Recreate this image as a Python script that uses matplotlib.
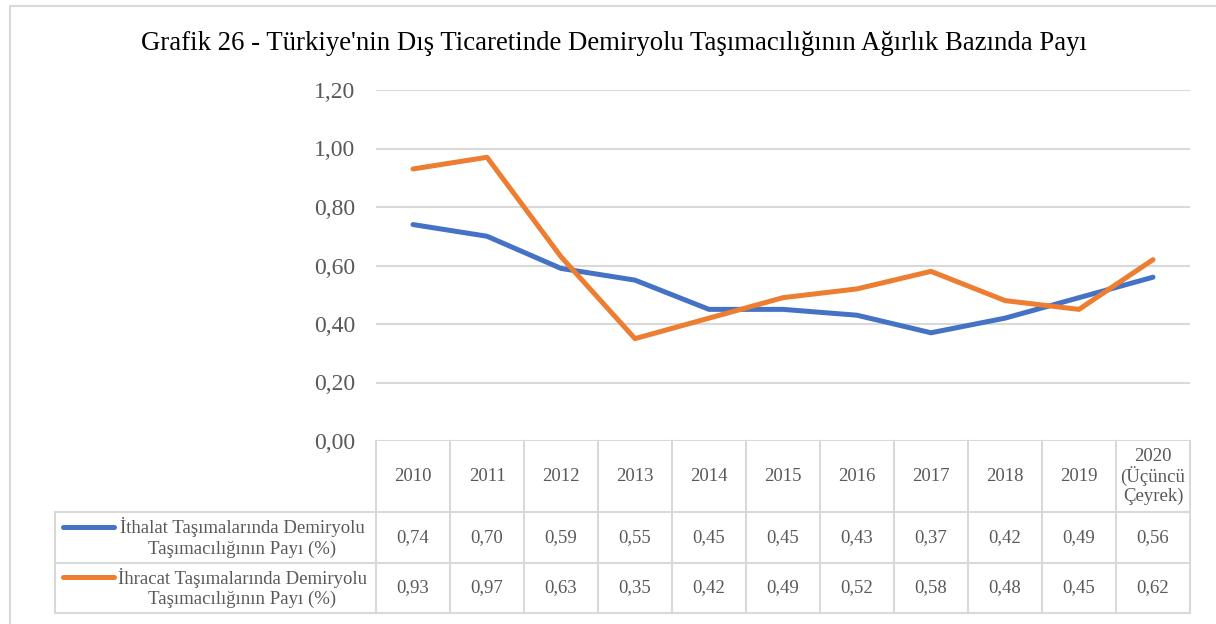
import matplotlib
matplotlib.use("Agg")
import matplotlib.pyplot as plt
from matplotlib.lines import Line2D
from matplotlib.patches import Rectangle

plt.rcParams['font.family'] = ['Liberation Serif', 'DejaVu Serif']

title = "Grafik 26 - Türkiye'nin Dış Ticaretinde Demiryolu Taşımacılığının Ağırlık Bazında Payı"
categories = ["2010", "2011", "2012", "2013", "2014", "2015", "2016", "2017", "2018", "2019",
              "2020\n(Üçüncü\nÇeyrek)"]
ithalat = [0.74, 0.70, 0.59, 0.55, 0.45, 0.45, 0.43, 0.37, 0.42, 0.49, 0.56]
ihracat = [0.93, 0.97, 0.63, 0.35, 0.42, 0.49, 0.52, 0.58, 0.48, 0.45, 0.62]
series_names = ["İthalat Taşımalarında Demiryolu\nTaşımacılığının Payı (%)",
                "İhracat Taşımalarında Demiryolu\nTaşımacılığının Payı (%)"]
yticks = [0.0, 0.2, 0.4, 0.6, 0.8, 1.0, 1.2]

W, H = 1216, 624
fig = plt.figure(figsize=(W / 100, H / 100), dpi=100)

def fx(px):
    return px / W

def fy(py):
    return 1 - py / H

grid_c = "#d9d9d9"
text_c = "#595959"
blue = "#4472C4"
orange = "#ED7D31"

# outer chart border
fig.patches.append(Rectangle((fx(10), fy(700)), fx(1300), fy(6) - fy(700), transform=fig.transFigure,
                             fill=False, edgecolor=grid_c, linewidth=1.5))

# plot area
x0, x1 = 376, 1190
y_top, y_bot = 90, 441
ax = fig.add_axes([fx(x0), fy(y_bot), fx(x1) - fx(x0), fy(y_top) - fy(y_bot)])
n = len(categories)
xs = list(range(n))
ax.set_xlim(-0.5, n - 0.5)
ax.set_ylim(0, 1.2)
ax.set_yticks(yticks)
ax.set_yticklabels([f"{v:.2f}".replace(".", ",") for v in yticks], fontsize=17, color=text_c)
ax.tick_params(axis='y', length=0, pad=15)
ax.set_xticks([])
for s in ax.spines.values():
    s.set_visible(False)
ax.grid(axis='y', color=grid_c, linewidth=1.5)
ax.set_axisbelow(True)
ax.plot(xs, ithalat, color=blue, linewidth=3.6, solid_capstyle='round', solid_joinstyle='round')
ax.plot(xs, ihracat, color=orange, linewidth=3.6, solid_capstyle='round', solid_joinstyle='round')

# title
fig.text(fx(614), fy(43), title, ha='center', va='center', fontsize=19.3, color='black')

# data table
rows_y = [441, 512, 563, 613]
left_x = 55
col_w = (x1 - x0) / n

def hline(y, xa, xb):
    fig.add_artist(Line2D([fx(xa), fx(xb)], [fy(y), fy(y)], transform=fig.transFigure,
                          color=grid_c, linewidth=1.5))

def vline(x, ya, yb):
    fig.add_artist(Line2D([fx(x), fx(x)], [fy(ya), fy(yb)], transform=fig.transFigure,
                          color=grid_c, linewidth=1.5))

for y in rows_y[1:]:
    hline(y, left_x, x1)
for i in range(n + 1):
    vline(x0 + i * col_w, rows_y[0], rows_y[3])
vline(left_x, rows_y[1], rows_y[3])

tsize = 13.5
for i, c in enumerate(categories):
    cx = x0 + (i + 0.5) * col_w
    fig.text(fx(cx), fy((rows_y[0] + rows_y[1]) / 2), c, ha='center', va='center',
             fontsize=tsize, color=text_c, linespacing=1.1)
    fig.text(fx(cx), fy((rows_y[1] + rows_y[2]) / 2), f"{ithalat[i]:.2f}".replace(".", ","),
             ha='center', va='center', fontsize=tsize, color=text_c)
    fig.text(fx(cx), fy((rows_y[2] + rows_y[3]) / 2), f"{ihracat[i]:.2f}".replace(".", ","),
             ha='center', va='center', fontsize=tsize, color=text_c)

for k, (name, col) in enumerate(zip(series_names, [blue, orange])):
    ya, yb = rows_y[k + 1], rows_y[k + 2]
    ymid = (ya + yb) / 2
    fig.text(fx(242), fy(ymid), name, ha='center', va='center', fontsize=tsize,
             color=text_c, linespacing=1.27)
    fig.add_artist(Line2D([fx(63), fx(114)], [fy(ymid - 11), fy(ymid - 11)], transform=fig.transFigure,
                          color=col, linewidth=3.6, solid_capstyle='round'))

fig.savefig("out.png", dpi=100)
